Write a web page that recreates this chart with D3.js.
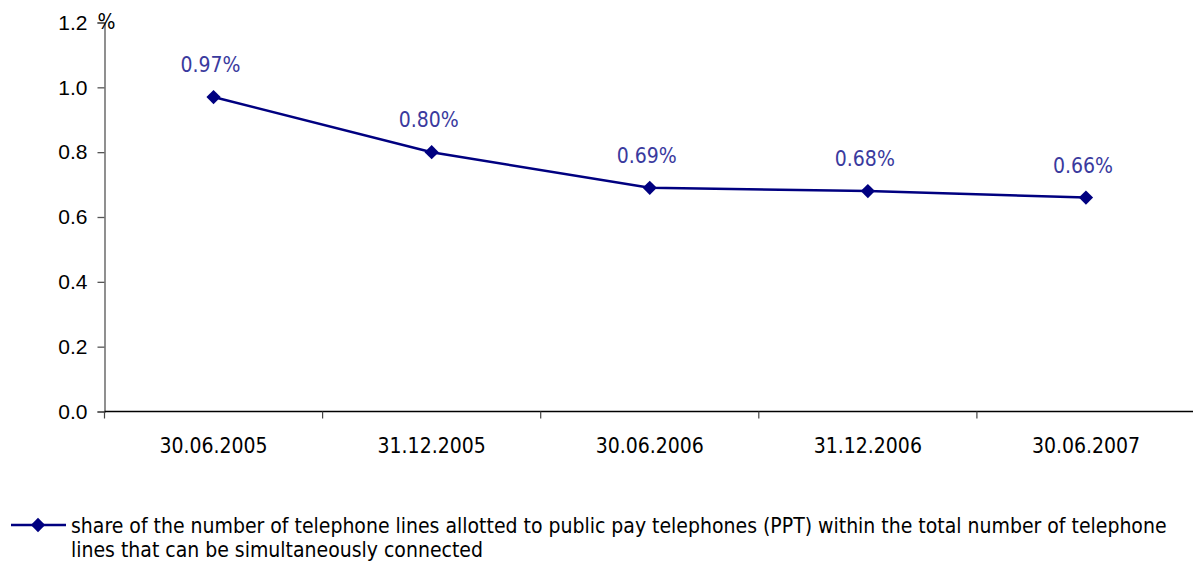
<!DOCTYPE html>
<html>
<head>
<meta charset="utf-8">
<script src="https://cdn.jsdelivr.net/npm/d3@7"></script>
<style>
  html, body { margin: 0; padding: 0; background: #fff; }
  svg { display: block; font-family: "DejaVu Sans Condensed", "Noto Sans", sans-serif; }
</style>
</head>
<body>
<svg id="chart" width="1193" height="565"></svg>
<script>
// Reporting dates and share of PPT lines (%)
const categories = ["30.06.2005", "31.12.2005", "30.06.2006", "31.12.2006", "30.06.2007"];
const shareValues = [0.97, 0.80, 0.69, 0.68, 0.66];
const yTicks = [0, 0.2, 0.4, 0.6, 0.8, 1.0, 1.2];
const seriesName = "share of the number of telephone lines allotted to public pay telephones (PPT) within the total number of telephone";
const seriesName2 = "lines that can be simultaneously connected";

const svg = d3.select("#chart");
const plotLeft = 104.5, plotRight = 1195, plotTop = 22.5, plotBottom = 411.5;
const lineColor = "#000080";
const labelColor = "#3a3a9e";
const fontSize = 21;

const x = d3.scaleBand().domain(categories).range([plotLeft, plotRight]).padding(0);
const y = d3.scaleLinear().domain([0, 1.2]).range([plotBottom, plotTop]);

// Y axis
const yAxis = d3.axisLeft(y).tickValues(yTicks).tickSize(7).tickPadding(10)
  .tickFormat(d3.format(".1f"));
const gy = svg.append("g").attr("transform", `translate(${plotLeft},0)`).call(yAxis);
gy.select(".domain").attr("stroke", "#555").attr("stroke-width", 1.3);
gy.selectAll(".tick line").attr("stroke", "#555").attr("stroke-width", 1.3);
gy.selectAll(".tick text").attr("font-size", fontSize).attr("fill", "#000")
  .attr("font-family", "inherit");

// Unit label
svg.append("text").attr("x", plotLeft - 7).attr("y", plotTop + 6)
  .attr("font-size", fontSize).attr("fill", "#000").text("%");

// X axis: ticks at category boundaries
const gx = svg.append("g").attr("transform", `translate(0,${plotBottom})`);
gx.append("line").attr("x1", plotLeft).attr("x2", plotRight).attr("stroke", "#000").attr("stroke-width", 1.3);
const bounds = categories.map(c => x(c)).concat([x(categories[categories.length - 1]) + x.bandwidth()]);
gx.selectAll("line.tk").data(bounds).join("line").attr("class", "tk")
  .attr("x1", d => d).attr("x2", d => d).attr("y1", 0).attr("y2", 7)
  .attr("stroke", "#444").attr("stroke-width", 1.2);
gx.selectAll("text").data(categories).join("text")
  .attr("x", d => x(d) + x.bandwidth() / 2).attr("y", 41)
  .attr("text-anchor", "middle").attr("font-size", fontSize).attr("fill", "#000")
  .text(d => d);

// Series line
const cx = (d, i) => x(categories[i]) + x.bandwidth() / 2;
const line = d3.line().x((d, i) => cx(d, i)).y(d => y(d));
svg.append("path").datum(shareValues).attr("d", line)
  .attr("fill", "none").attr("stroke", lineColor).attr("stroke-width", 2.5);

const diamond = d3.symbol().type(d3.symbolDiamond2).size(130);
svg.selectAll("path.marker").data(shareValues).join("path").attr("class", "marker")
  .attr("d", diamond)
  .attr("transform", (d, i) => `translate(${cx(d, i)},${y(d)})`)
  .attr("fill", lineColor);

// Value labels
svg.selectAll("text.val").data(shareValues).join("text").attr("class", "val")
  .attr("x", (d, i) => cx(d, i) - 3).attr("y", d => y(d) - 25)
  .attr("text-anchor", "middle").attr("font-size", fontSize).attr("fill", labelColor)
  .text(d => d3.format(".2f")(d) + "%");

// Legend
const lg = svg.append("g");
lg.append("line").attr("x1", 11).attr("x2", 66).attr("y1", 525).attr("y2", 525)
  .attr("stroke", lineColor).attr("stroke-width", 2.5);
lg.append("path").attr("d", diamond).attr("transform", "translate(38,525)").attr("fill", lineColor);
lg.append("text").attr("x", 71).attr("y", 533).attr("font-size", fontSize).attr("fill", "#000").text(seriesName);
lg.append("text").attr("x", 71).attr("y", 557).attr("font-size", fontSize).attr("fill", "#000").text(seriesName2);
</script>
</body>
</html>
